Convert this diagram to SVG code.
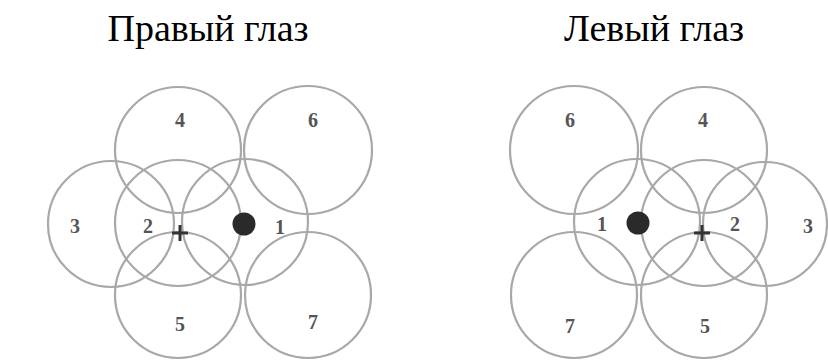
<svg xmlns="http://www.w3.org/2000/svg" width="828" height="361" viewBox="0 0 828 361">
<style>
.c{fill:none;stroke:#a8a8a8;stroke-width:2.2}
.n{font-family:"Liberation Serif","Times New Roman",serif;font-size:20px;font-weight:bold;fill:#555;text-anchor:middle}
.t{font-family:"Liberation Serif","Times New Roman",serif;font-size:38px;fill:#000;text-anchor:middle}
.dot{fill:#2a2a2a}
.x{stroke:#333;stroke-width:3}
</style>
<rect width="828" height="361" fill="#fff"/>
<text class="t" x="208" y="41">Правый глаз</text>
<text class="t" x="654" y="41">Левый глаз</text>
<g id="right-eye">
<g id="r4"><circle class="c" cx="178" cy="150" r="63"/><text class="n" x="180" y="127">4</text></g>
<g id="r6"><circle class="c" cx="308" cy="150" r="64"/><text class="n" x="313" y="127">6</text></g>
<g id="r3"><circle class="c" cx="111" cy="224" r="63"/><text class="n" x="75" y="233">3</text></g>
<g id="r2"><circle class="c" cx="178" cy="223" r="63"/><text class="n" x="148" y="233">2</text></g>
<g id="r1"><circle class="c" cx="245" cy="222" r="63"/><text class="n" x="280" y="234">1</text></g>
<g id="r5"><circle class="c" cx="178" cy="295" r="63"/><text class="n" x="180" y="331">5</text></g>
<g id="r7"><circle class="c" cx="308" cy="295" r="63"/><text class="n" x="313" y="329">7</text></g>
<g id="r-spot"><circle class="dot" cx="244" cy="224" r="11.5"/></g>
<g id="r-fix"><path class="x" d="M172 233h16M180 225v16"/></g>
</g>
<g id="left-eye">
<g id="l6"><circle class="c" cx="574" cy="150" r="64"/><text class="n" x="570" y="127">6</text></g>
<g id="l4"><circle class="c" cx="704" cy="150" r="63"/><text class="n" x="703" y="127">4</text></g>
<g id="l1"><circle class="c" cx="637" cy="222" r="63"/><text class="n" x="602" y="231">1</text></g>
<g id="l2"><circle class="c" cx="704" cy="223" r="63"/><text class="n" x="735" y="231">2</text></g>
<g id="l3"><circle class="c" cx="765" cy="224" r="62"/><text class="n" x="808" y="233">3</text></g>
<g id="l7"><circle class="c" cx="574" cy="295" r="63"/><text class="n" x="570" y="333">7</text></g>
<g id="l5"><circle class="c" cx="704" cy="295" r="63"/><text class="n" x="705" y="333">5</text></g>
<g id="l-spot"><circle class="dot" cx="638" cy="223" r="11.5"/></g>
<g id="l-fix"><path class="x" d="M694 233h16M702 225v16"/></g>
</g>
<g id="connectors"/>
</svg>
